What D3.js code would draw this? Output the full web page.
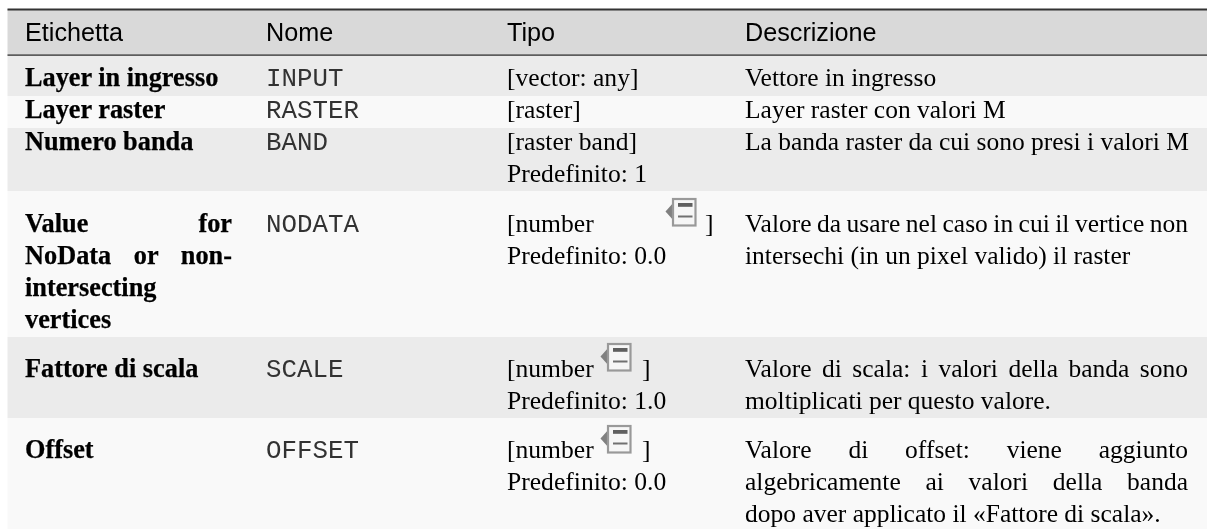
<!DOCTYPE html>
<html><head><meta charset="utf-8">
<script src="https://cdnjs.cloudflare.com/ajax/libs/d3/7.8.5/d3.min.js"></script>
<style>html,body{margin:0;padding:0;background:#fff;overflow:hidden}svg{display:block}</style>
</head><body><svg id="c" width="1207" height="529"></svg>
<script>
const headers = ["Etichetta","Nome","Tipo","Descrizione"];
const labels = [["Layer in ingresso"],["Layer raster"],["Numero banda"],["Value for","NoData or non-","intersecting","vertices"],["Fattore di scala"],["Offset"]];
const names = ["INPUT","RASTER","BAND","NODATA","SCALE","OFFSET"];
const types = [["[vector: any]"],["[raster]"],["[raster band]","Predefinito: 1"],["[number","Predefinito: 0.0"],["[number","Predefinito: 1.0"],["[number","Predefinito: 0.0"]];
const hasIcon = [false,false,false,true,true,true];
const descriptions = [["Vettore in ingresso"],["Layer raster con valori M"],["La banda raster da cui sono presi i valori M"],
 ["Valore da usare nel caso in cui il vertice non","intersechi (in un pixel valido) il raster"],
 ["Valore di scala: i valori della banda sono","moltiplicati per questo valore."],
 ["Valore di offset: viene aggiunto","algebricamente ai valori della banda","dopo aver applicato il «Fattore di scala»."]];
const justifiedLabels = [[],[],[],[true,true,false,false],[],[]];
const justifiedDescriptions = [[],[],[],[true,false],[true,false],[true,true,false]];

// layout
const W=1207,H=529,left=7.5;
const colX=d3.scaleOrdinal().domain(headers).range([25,266,507,745]);
const colRight={label:232,desc:1188};
const edges=[55,96,128,191,337,418,529];
const first=[86,117.5,150,232,377,458];
const lh=32.1;
const serif='"Liberation Serif"',sans='"Liberation Sans"',mono='"Liberation Mono"';
const svg=d3.select("#c");
const defs=svg.append("defs");
defs.append("filter").attr("id","soft").attr("x","-2%").attr("y","-20%").attr("width","104%").attr("height","140%")
 .append("feGaussianBlur").attr("stdDeviation",0.3);

svg.append("rect").attr("x",left).attr("y",9).attr("width",W-left).attr("height",46).attr("fill","#d9d9d9");
svg.selectAll("rect.row").data(names).join("rect").attr("class","row")
 .attr("x",left).attr("y",(d,i)=>edges[i]).attr("width",W-left).attr("height",(d,i)=>edges[i+1]-edges[i])
 .attr("fill",(d,i)=>i%2?"#f9f9f9":"#ebebeb");
svg.append("rect").attr("x",left).attr("y",8.5).attr("width",W-left).attr("height",2).attr("fill","#333");
svg.append("rect").attr("x",left).attr("y",54.5).attr("width",W-left).attr("height",1.2).attr("fill","#222");

const textLayer=svg.append("g").attr("filter","url(#soft)");
textLayer.selectAll("text.h").data(headers).join("text").attr("class","h")
 .attr("x",d=>colX(d)).attr("y",41).attr("font-family",sans).attr("font-size",25.2).attr("fill","#000").text(d=>d);

function put(str,x,y,fam,fs,opts={}){
 const t=textLayer.append("text").attr("x",x).attr("y",y).attr("font-family",fam).attr("font-size",fs)
  .attr("font-weight",opts.weight||"normal").attr("fill",opts.fill||"#000").text(str);
 if(opts.bold){t.attr("stroke","#000").attr("stroke-width",0.25);}
 if(opts.right!==undefined){
  const w=t.node().getComputedTextLength();
  const n=str.split(" ").length-1;
  if(n>0)t.attr("word-spacing",(opts.right-x-w)/n);
 }
}
labels.forEach((ls,i)=>ls.forEach((s,j)=>put(s,colX("Etichetta"),first[i]+j*lh,serif,26.3,{weight:"bold",bold:true,right:justifiedLabels[i][j]?colRight.label:undefined})));
names.forEach((s,i)=>put(s,colX("Nome"),first[i],mono,25.8,{fill:"#333"}));
types.forEach((ls,i)=>ls.forEach((s,j)=>put(s,colX("Tipo"),first[i]+j*lh,serif,25.6)));
descriptions.forEach((ls,i)=>ls.forEach((s,j)=>put(s,colX("Descrizione"),first[i]+j*lh,serif,25.5,{right:justifiedDescriptions[i][j]?colRight.desc:undefined})));

const iconPos={3:[665,198,705],4:[600,343,642],5:[600,425,642]};
hasIcon.forEach((on,i)=>{
 if(!on)return;
 const [x,y,bx]=iconPos[i];
 put("]",bx,first[i],serif,25.6);
 const g=svg.append("g").attr("transform",`translate(${x},${y})`).attr("filter","url(#soft)");
 g.append("path").attr("d","M9 4 L0.5 13.5 L9 23 Z").attr("fill","#808080");
 g.append("rect").attr("x",8).attr("y",1).attr("width",22.5).attr("height",26.5).attr("fill","#f6f6f6").attr("stroke","#999").attr("stroke-width",2.2);
 g.append("rect").attr("x",13).attr("y",5).attr("width",14.5).attr("height",3.8).attr("fill","#5e5e5e");
 g.append("rect").attr("x",13).attr("y",17.5).attr("width",14.5).attr("height",2).attr("fill","#707070");
});
</script></body></html>
